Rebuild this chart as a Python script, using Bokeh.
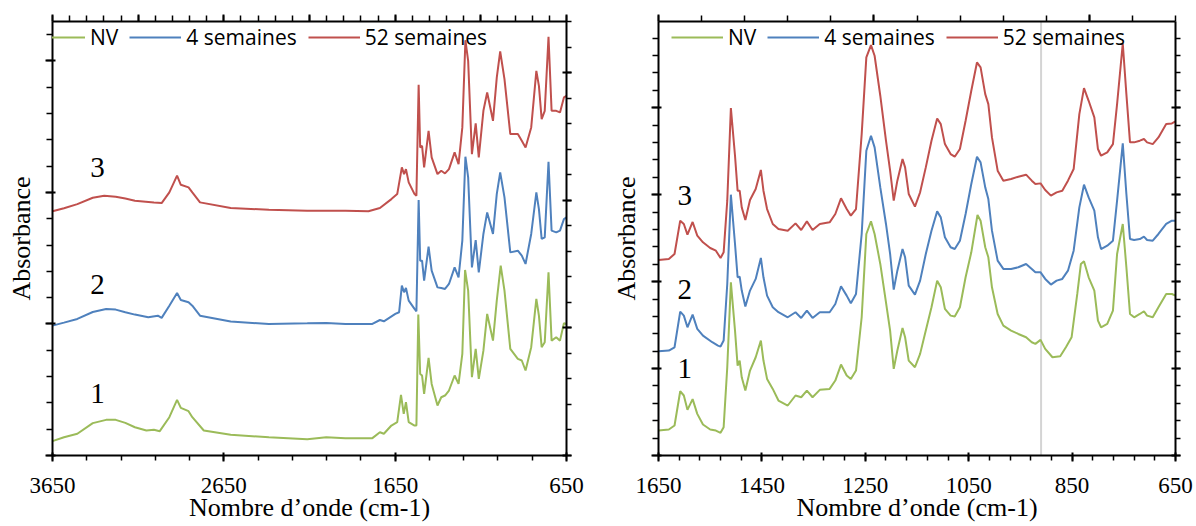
from bokeh.plotting import figure
from bokeh.models import (Range1d, LinearAxis, FixedTicker, Legend, LegendItem, Label,
                          Span, CustomJSTickFormatter)
from bokeh.layouts import row
from bokeh.embed import file_html
from bokeh.resources import INLINE

SERIES = ["NV", "4 semaines", "52 semaines"]
COLORS = ["#9BBB59", "#4F81BD", "#C0504D"]
CURVE_LABELS = ["1", "2", "3"]
X_TITLE = "Nombre d\u2019onde (cm-1)"
Y_TITLE = "Absorbance"

LEFT_XTICKS = [3650, 2650, 1650, 650]
RIGHT_XTICKS = [1650, 1450, 1250, 1050, 850, 650]

# ---------------- left panel (3650 - 650 cm-1) ----------------
left_nv_x = [3650, 3583, 3505, 3415, 3337, 3281, 3225, 3169, 3102, 3058, 3024, 2968, 2923,
             2901, 2856, 2834, 2767, 2610, 2387, 2163, 2052, 1940, 1783,
             1739, 1716, 1672, 1638, 1616, 1600, 1587, 1571, 1537, 1526,
             1515, 1504, 1493, 1481, 1455, 1437, 1403, 1381, 1359, 1336,
             1303, 1280, 1258, 1242, 1224, 1202, 1180, 1162, 1135, 1113,
             1079, 1057, 1034, 1012, 978, 934, 911, 889, 856, 826,
             811, 795, 777, 755, 737, 710, 688, 665, 650]
left_nv_y = [0.109, 0.139, 0.165, 0.246, 0.271, 0.271, 0.248, 0.215, 0.190, 0.195, 0.185, 0.291, 0.423,
             0.362, 0.337, 0.291, 0.190, 0.157, 0.139, 0.124, 0.139, 0.132, 0.132,
             0.177, 0.165, 0.228, 0.253, 0.461, 0.316, 0.405, 0.253, 0.228, 0.228,
             1.071, 0.620, 0.608, 0.468, 0.742, 0.544, 0.380, 0.443, 0.456, 0.494,
             0.608, 0.544, 0.772, 1.410, 1.253, 0.595, 0.810, 0.582, 0.797, 1.076,
             0.873, 1.177, 1.443, 1.253, 0.810, 0.734, 0.722, 0.646, 0.823, 1.190,
             1.063, 0.823, 0.861, 1.392, 0.873, 0.899, 0.873, 1.005, 1.000]

left_4s_x = [3650, 3583, 3505, 3415, 3337, 3281, 3225, 3169, 3091, 3035, 3013, 2968, 2923,
             2901, 2856, 2834, 2789, 2610, 2387, 2163, 2052, 1940, 1783,
             1739, 1716, 1649, 1627, 1611, 1598, 1587, 1571, 1537, 1526,
             1513, 1504, 1493, 1481, 1455, 1437, 1403, 1381, 1359, 1336,
             1303, 1280, 1258, 1240, 1224, 1202, 1180, 1162, 1135, 1113,
             1079, 1057, 1037, 1012, 978, 934, 911, 889, 856, 826,
             811, 795, 777, 755, 737, 710, 688, 665, 650]
left_4s_y = [0.987, 1.010, 1.038, 1.091, 1.114, 1.109, 1.089, 1.071, 1.051, 1.063, 1.046, 1.139, 1.235,
             1.182, 1.165, 1.139, 1.063, 1.018, 1.000, 1.005, 1.008, 1.000, 1.000,
             1.030, 1.020, 1.076, 1.089, 1.291, 1.241, 1.273, 1.177, 1.114, 1.096,
             1.942, 1.481, 1.481, 1.329, 1.587, 1.405, 1.278, 1.273, 1.266, 1.304,
             1.430, 1.354, 1.633, 2.271, 2.114, 1.430, 1.638, 1.392, 1.684, 1.848,
             1.684, 1.987, 2.152, 1.962, 1.544, 1.557, 1.519, 1.456, 1.684, 2.000,
             1.873, 1.646, 1.658, 2.233, 1.709, 1.696, 1.709, 1.797, 1.810]

left_52s_x = [3650, 3583, 3505, 3415, 3348, 3281, 3225, 3169, 3058, 3013, 2968, 2923, 2901,
              2856, 2834, 2789, 2610, 2387, 2163, 1940, 1806, 1739, 1672,
              1638, 1611, 1598, 1587, 1571, 1537, 1526, 1513, 1504, 1493,
              1481, 1455, 1437, 1403, 1381, 1359, 1336, 1303, 1280, 1258,
              1240, 1224, 1202, 1180, 1162, 1135, 1113, 1079, 1057, 1037,
              1012, 978, 934, 911, 889, 856, 826, 811, 795, 777,
              755, 737, 710, 688, 665, 650]
left_52s_y = [1.856, 1.880, 1.911, 1.959, 1.975, 1.967, 1.954, 1.937, 1.924, 1.919, 2.000, 2.127, 2.058,
              2.038, 2.000, 1.924, 1.881, 1.868, 1.861, 1.861, 1.856, 1.881, 1.949,
              1.987, 2.190, 2.139, 2.177, 2.076, 1.987, 1.975, 2.818, 2.342, 2.354,
              2.190, 2.468, 2.266, 2.139, 2.165, 2.144, 2.177, 2.304, 2.215, 2.494,
              3.157, 3.000, 2.291, 2.524, 2.266, 2.620, 2.759, 2.544, 2.873, 3.071,
              2.861, 2.443, 2.443, 2.392, 2.342, 2.494, 2.924, 2.810, 2.557, 2.620,
              3.182, 2.620, 2.620, 2.608, 2.722, 2.734]

left_label_x = [3387, 3387, 3387]
left_label_y = [0.468, 1.298, 2.189]

# ---------------- right panel (1650 - 650 cm-1) ----------------
right_nv_x = [1650, 1630, 1619, 1608, 1601, 1594, 1584, 1575, 1564, 1550,
              1539, 1530, 1524, 1517, 1510, 1502, 1497, 1493, 1489, 1482,
              1473, 1462, 1452, 1447, 1440, 1429, 1418, 1400, 1385, 1374,
              1363, 1352, 1338, 1319, 1308, 1297, 1286, 1278, 1268, 1257,
              1248, 1239, 1232, 1221, 1210, 1202, 1195, 1188, 1178, 1173,
              1166, 1154, 1144, 1133, 1122, 1111, 1104, 1096, 1085, 1077,
              1067, 1056, 1045, 1033, 1027, 1018, 1012, 1005, 994, 983,
              968, 954, 939, 928, 921, 911, 902, 888, 873, 862,
              851, 840, 833, 827, 818, 807, 800, 794, 782, 771,
              763, 752, 745, 738, 730, 719, 711, 705, 694, 683,
              668, 657, 650]
right_nv_y = [0.287, 0.299, 0.345, 0.739, 0.690, 0.525, 0.648, 0.479, 0.356, 0.299,
              0.287, 0.261, 0.326, 1.015, 1.992, 1.437, 1.034, 1.092, 0.900, 0.747,
              0.977, 1.130, 1.322, 1.092, 0.881, 0.766, 0.632, 0.575, 0.690, 0.670,
              0.747, 0.670, 0.755, 0.766, 0.862, 1.046, 0.920, 0.881, 0.977, 1.590,
              2.548, 2.693, 2.548, 2.203, 1.762, 1.437, 0.996, 1.207, 1.467, 1.360,
              1.092, 1.015, 1.169, 1.437, 1.705, 2.011, 1.935, 1.686, 1.609, 1.598,
              1.705, 2.050, 2.337, 2.766, 2.701, 2.395, 2.280, 1.935, 1.628, 1.494,
              1.437, 1.398, 1.360, 1.303, 1.284, 1.330, 1.226, 1.130, 1.142, 1.245,
              1.360, 1.858, 2.203, 2.234, 2.050, 1.897, 1.552, 1.475, 1.513, 1.667,
              2.318, 2.663, 2.165, 1.628, 1.590, 1.628, 1.659, 1.609, 1.590, 1.705,
              1.858, 1.858, 1.839]

right_4s_x = [1650, 1630, 1619, 1608, 1601, 1594, 1584, 1575, 1564, 1546,
              1535, 1530, 1524, 1517, 1510, 1502, 1497, 1493, 1489, 1482,
              1473, 1462, 1452, 1447, 1440, 1429, 1418, 1400, 1385, 1374,
              1363, 1352, 1338, 1319, 1308, 1297, 1286, 1278, 1268, 1257,
              1248, 1239, 1232, 1221, 1210, 1202, 1195, 1188, 1178, 1173,
              1166, 1154, 1144, 1133, 1122, 1111, 1104, 1096, 1085, 1077,
              1067, 1056, 1045, 1034, 1027, 1018, 1012, 1005, 994, 983,
              968, 954, 939, 928, 921, 911, 902, 891, 880, 869,
              858, 847, 836, 827, 818, 807, 800, 794, 782, 771,
              763, 752, 745, 738, 730, 719, 711, 705, 694, 683,
              668, 657, 650]
right_4s_y = [1.199, 1.207, 1.245, 1.655, 1.609, 1.475, 1.621, 1.456, 1.379, 1.303,
              1.264, 1.253, 1.322, 1.973, 3.000, 2.433, 2.050, 2.057, 1.897, 1.713,
              1.897, 2.031, 2.272, 2.050, 1.839, 1.705, 1.648, 1.590, 1.648, 1.582,
              1.667, 1.582, 1.648, 1.648, 1.743, 1.946, 1.839, 1.751, 1.858, 2.548,
              3.506, 3.678, 3.544, 3.084, 2.663, 2.318, 1.908, 2.126, 2.375, 2.280,
              1.954, 1.851, 2.011, 2.318, 2.586, 2.808, 2.739, 2.510, 2.395, 2.375,
              2.471, 2.778, 3.123, 3.437, 3.372, 3.084, 2.950, 2.586, 2.241, 2.146,
              2.146, 2.165, 2.203, 2.146, 2.107, 2.107, 2.031, 1.966, 2.011, 2.031,
              2.126, 2.356, 2.854, 3.115, 2.969, 2.816, 2.510, 2.375, 2.414, 2.471,
              2.931, 3.590, 3.008, 2.490, 2.479, 2.490, 2.517, 2.479, 2.471, 2.548,
              2.663, 2.701, 2.701]

right_52s_x = [1650, 1630, 1619, 1608, 1601, 1594, 1584, 1575, 1564, 1550,
               1539, 1530, 1524, 1517, 1510, 1502, 1497, 1493, 1489, 1482,
               1473, 1462, 1452, 1447, 1440, 1429, 1418, 1400, 1385, 1374,
               1363, 1352, 1338, 1319, 1308, 1297, 1286, 1278, 1268, 1257,
               1248, 1239, 1232, 1221, 1210, 1202, 1195, 1188, 1178, 1173,
               1166, 1154, 1144, 1133, 1122, 1111, 1104, 1096, 1085, 1077,
               1067, 1056, 1045, 1034, 1027, 1018, 1012, 1005, 994, 983,
               968, 954, 939, 928, 921, 911, 902, 891, 880, 869,
               858, 847, 836, 827, 818, 807, 800, 794, 782, 771,
               763, 752, 745, 738, 730, 719, 711, 705, 694, 683,
               668, 657, 650]
right_52s_y = [2.249, 2.261, 2.318, 2.701, 2.663, 2.540, 2.686, 2.529, 2.452, 2.387,
               2.356, 2.272, 2.337, 2.931, 3.996, 3.448, 3.046, 3.046, 2.854, 2.709,
               2.939, 3.065, 3.284, 3.046, 2.835, 2.663, 2.605, 2.586, 2.670, 2.594,
               2.693, 2.594, 2.663, 2.682, 2.778, 2.958, 2.835, 2.759, 2.835, 3.697,
               4.579, 4.720, 4.598, 4.138, 3.621, 3.276, 2.931, 3.161, 3.410, 3.314,
               3.008, 2.862, 3.027, 3.314, 3.621, 3.877, 3.812, 3.582, 3.467, 3.437,
               3.525, 3.851, 4.195, 4.521, 4.464, 4.157, 4.042, 3.659, 3.276, 3.161,
               3.180, 3.207, 3.230, 3.161, 3.123, 3.130, 3.054, 2.989, 3.027, 3.046,
               3.161, 3.295, 3.927, 4.226, 4.080, 3.889, 3.525, 3.448, 3.487, 3.582,
               4.042, 4.739, 4.157, 3.602, 3.602, 3.621, 3.640, 3.602, 3.582, 3.659,
               3.812, 3.820, 3.843]

right_label_x = [1599, 1599, 1599]
right_label_y = [0.996, 1.904, 2.989]

marker_line_x = 910   # light grey vertical line in right panel

SERIF = "Liberation Serif"
SANS = "Open Sans"
FIG_H = 524
TOP = 21
FRAME_H = 437


def blank_axis(ax):
    ax.formatter = CustomJSTickFormatter(code="return ''")
    ax.major_label_text_font_size = "0px"
    ax.major_label_standoff = 0


def style_axis(ax, tin, tout, mtin, mtout):
    ax.axis_line_width = 2
    ax.axis_line_color = "black"
    ax.major_tick_line_width = 2
    ax.major_tick_line_color = "black"
    ax.minor_tick_line_width = 1.5
    ax.minor_tick_line_color = "black"
    ax.major_tick_in = tin
    ax.major_tick_out = tout
    ax.minor_tick_in = mtin
    ax.minor_tick_out = mtout


def make_panel(width, bl, br, x_rng, y_top, y2_top, bmaj, bmin, tmaj, tmin,
               ymaj, ymin, y2maj, y2min, curves, lab_x, lab_y, legend_x,
               ylabel_standoff, grey_line=None):
    p = figure(width=width, height=FIG_H, x_range=Range1d(*x_rng),
               y_range=Range1d(0, y_top), output_backend="svg",
               toolbar_location=None, min_border_left=bl, min_border_right=br,
               min_border_top=TOP, min_border_bottom=FIG_H - TOP - FRAME_H)
    p.outline_line_color = None
    p.xgrid.visible = False
    p.ygrid.visible = False
    p.background_fill_color = "white"
    p.border_fill_color = "white"

    # bottom axis
    xb = p.xaxis[0]
    xb.ticker = FixedTicker(ticks=bmaj, minor_ticks=bmin)
    style_axis(xb, 3, 6, 0, 5)
    xb.major_label_text_font = SERIF
    xb.major_label_text_font_size = "23px"
    xb.major_label_text_color = "black"
    xb.major_label_standoff = 16
    xb.axis_label = X_TITLE
    xb.axis_label_text_font = SERIF
    xb.axis_label_text_font_style = "normal"
    xb.axis_label_text_font_size = "26px"
    xb.axis_label_text_color = "black"
    xb.axis_label_standoff = -3

    # left axis
    yl = p.yaxis[0]
    yl.ticker = FixedTicker(ticks=ymaj, minor_ticks=ymin)
    blank_axis(yl)
    style_axis(yl, 3, 7, 0, 6)
    yl.axis_label = Y_TITLE
    yl.axis_label_text_font = SERIF
    yl.axis_label_text_font_style = "normal"
    yl.axis_label_text_font_size = "26px"
    yl.axis_label_text_color = "black"
    yl.axis_label_standoff = ylabel_standoff

    # top axis
    xt = LinearAxis(ticker=FixedTicker(ticks=tmaj, minor_ticks=tmin))
    blank_axis(xt)
    style_axis(xt, 0, 7, 0, 6)
    p.add_layout(xt, "above")

    # right axis (own scale)
    p.extra_y_ranges = {"r": Range1d(0, y2_top)}
    yr = LinearAxis(y_range_name="r", ticker=FixedTicker(ticks=y2maj, minor_ticks=y2min))
    blank_axis(yr)
    style_axis(yr, 4, 5, 0, 5)
    p.add_layout(yr, "right")

    if grey_line is not None:
        p.add_layout(Span(location=grey_line, dimension="height", line_color="#D4D4D4",
                          line_width=2, level="underlay"))

    items = []
    for (xs, ys), name, col in zip(curves, SERIES, COLORS):
        r = p.line(xs, ys, line_color=col, line_width=2)
        items.append(LegendItem(label=name, renderers=[r]))

    for t, lx, ly in zip(CURVE_LABELS, lab_x, lab_y):
        p.add_layout(Label(x=lx, y=ly, text=t, text_font=SERIF, text_font_size="29px",
                           text_align="center", text_baseline="middle", text_color="black"))

    leg = Legend(items=items, orientation="horizontal", location=(legend_x, 404),
                 glyph_width=52, glyph_height=20, label_height=20, label_standoff=5,
                 spacing=11, padding=0, margin=0, border_line_color=None,
                 background_fill_alpha=0, label_text_font=SANS,
                 label_text_font_size="21px", label_text_color="black")
    p.add_layout(leg)
    return p


left = make_panel(
    608, 52, 42, (3650, 650), 3.299, 3.402,
    LEFT_XTICKS, list(range(650, 3651, 200)),
    list(range(650, 3651, 500)), list(range(650, 3651, 100)),
    [0, 1, 2, 3], [round(0.2 * k, 1) for k in range(17)],
    [0, 1, 2, 3], [round(0.2 * k, 1) for k in range(18)],
    [(left_nv_x, left_nv_y), (left_4s_x, left_4s_y), (left_52s_x, left_52s_y)],
    left_label_x, left_label_y, -19, 10)

right_top = [1650 - k * 1000 / 12 for k in range(13)]
right = make_panel(
    586, 49, 19, (1650, 650), 4.992, 4.992,
    RIGHT_XTICKS, list(range(650, 1651, 40)),
    [right_top[0], right_top[5], right_top[10]], right_top,
    [0, 1, 2, 3, 4], [round(0.2 * k, 1) for k in range(25)],
    [0, 1, 2, 3, 4], [round(0.2 * k, 1) for k in range(25)],
    [(right_nv_x, right_nv_y), (right_4s_x, right_4s_y), (right_52s_x, right_52s_y)],
    right_label_x, right_label_y, 13, 11, grey_line=marker_line_x)

layout = row(left, right)
open("out.html", "w").write(file_html(layout, INLINE))
